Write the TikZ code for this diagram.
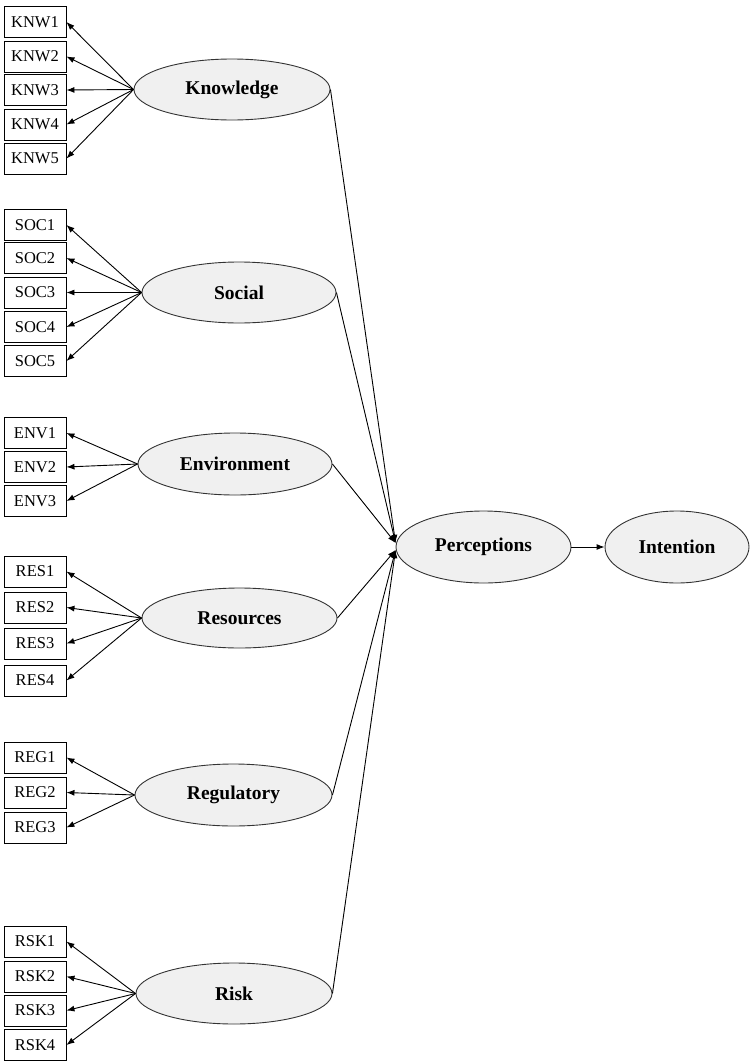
\documentclass[tikz,border=0pt]{standalone}
\usepackage{fontspec}
\setmainfont{Liberation Serif}
\usetikzlibrary{shapes.geometric,arrows.meta}
\definecolor{efill}{HTML}{F0F0F0}
\definecolor{eline}{HTML}{333333}
\tikzset{
  ind/.style={draw=black,line width=0.9pt,minimum width=62pt,minimum height=31pt,inner sep=0pt,font=\fontsize{16.5}{18}\selectfont},
  lat/.style={ellipse,draw=eline,line width=0.9pt,fill=efill,inner sep=0pt,font=\fontsize{19.5}{21}\selectfont\bfseries},
  load/.style={line width=0.9pt,-{Latex[length=8pt,width=6pt]}},
  path/.style={line width=0.9pt,-{Latex[length=8pt,width=6pt]}}
}
\begin{document}
\begin{tikzpicture}[x=1pt,y=-1pt]
\useasboundingbox (0,0) rectangle (754,1063);
% latent variables
\node[lat,minimum width=196pt,minimum height=61pt] (K) at (232,89.5) {Knowledge};
\node[lat,minimum width=194pt,minimum height=61pt] (S) at (239,292.5) {Social};
\node[lat,minimum width=194pt,minimum height=62pt] (E) at (235,464) {Environment};
\node[lat,minimum width=195pt,minimum height=60pt] (R) at (239.5,618) {Resources};
\node[lat,minimum width=197pt,minimum height=62pt] (G) at (233.5,795) {Regulatory};
\node[lat,minimum width=196pt,minimum height=61pt] (K2) at (234,993.5) {Risk};
\node[lat,minimum width=175pt,minimum height=72pt] (P) at (483.5,547) {Perceptions};
\node[lat,minimum width=144pt,minimum height=72pt] (I) at (677,547) {Intention};
% indicators
\foreach \n/\y in {1/22,2/56.5,3/90,4/124.5,5/158.5}{
  \node[ind] (knw\n) at (35,\y) {KNW\n};
  \draw[load] (K.west) -- (knw\n.east);
}
\foreach \n/\y in {1/225,2/258,3/292.5,4/327,5/361}{
  \node[ind] (soc\n) at (35,\y) {SOC\n};
  \draw[load] (S.west) -- (soc\n.east);
}
\foreach \n/\y in {1/433,2/467,3/501}{
  \node[ind] (env\n) at (35,\y) {ENV\n};
  \draw[load] (E.west) -- (env\n.east);
}
\foreach \n/\y in {1/571.5,2/607.5,3/643.5,4/680.5}{
  \node[ind] (res\n) at (35,\y) {RES\n};
  \draw[load] (R.west) -- (res\n.east);
}
\foreach \n/\y in {1/757.5,2/792.5,3/827.5}{
  \node[ind] (reg\n) at (35,\y) {REG\n};
  \draw[load] (G.west) -- (reg\n.east);
}
\foreach \n/\y in {1/941.5,2/976.5,3/1010.5,4/1045}{
  \node[ind] (rsk\n) at (35,\y) {RSK\n};
  \draw[load] (K2.west) -- (rsk\n.east);
}
% structural paths
\coordinate (pin1) at ([yshift=4pt]P.west);
\coordinate (pin2) at ([yshift=-3pt]P.west);
\draw[load] (K.east) -- (pin1);
\draw[load] (S.east) -- (pin1);
\draw[load] (E.east) -- (pin1);
\draw[load] (R.east) -- (pin2);
\draw[load] (G.east) -- (pin2);
\draw[load] (K2.east) -- (pin2);
\draw[path] (P.east) -- (I.west);
\end{tikzpicture}
\end{document}
